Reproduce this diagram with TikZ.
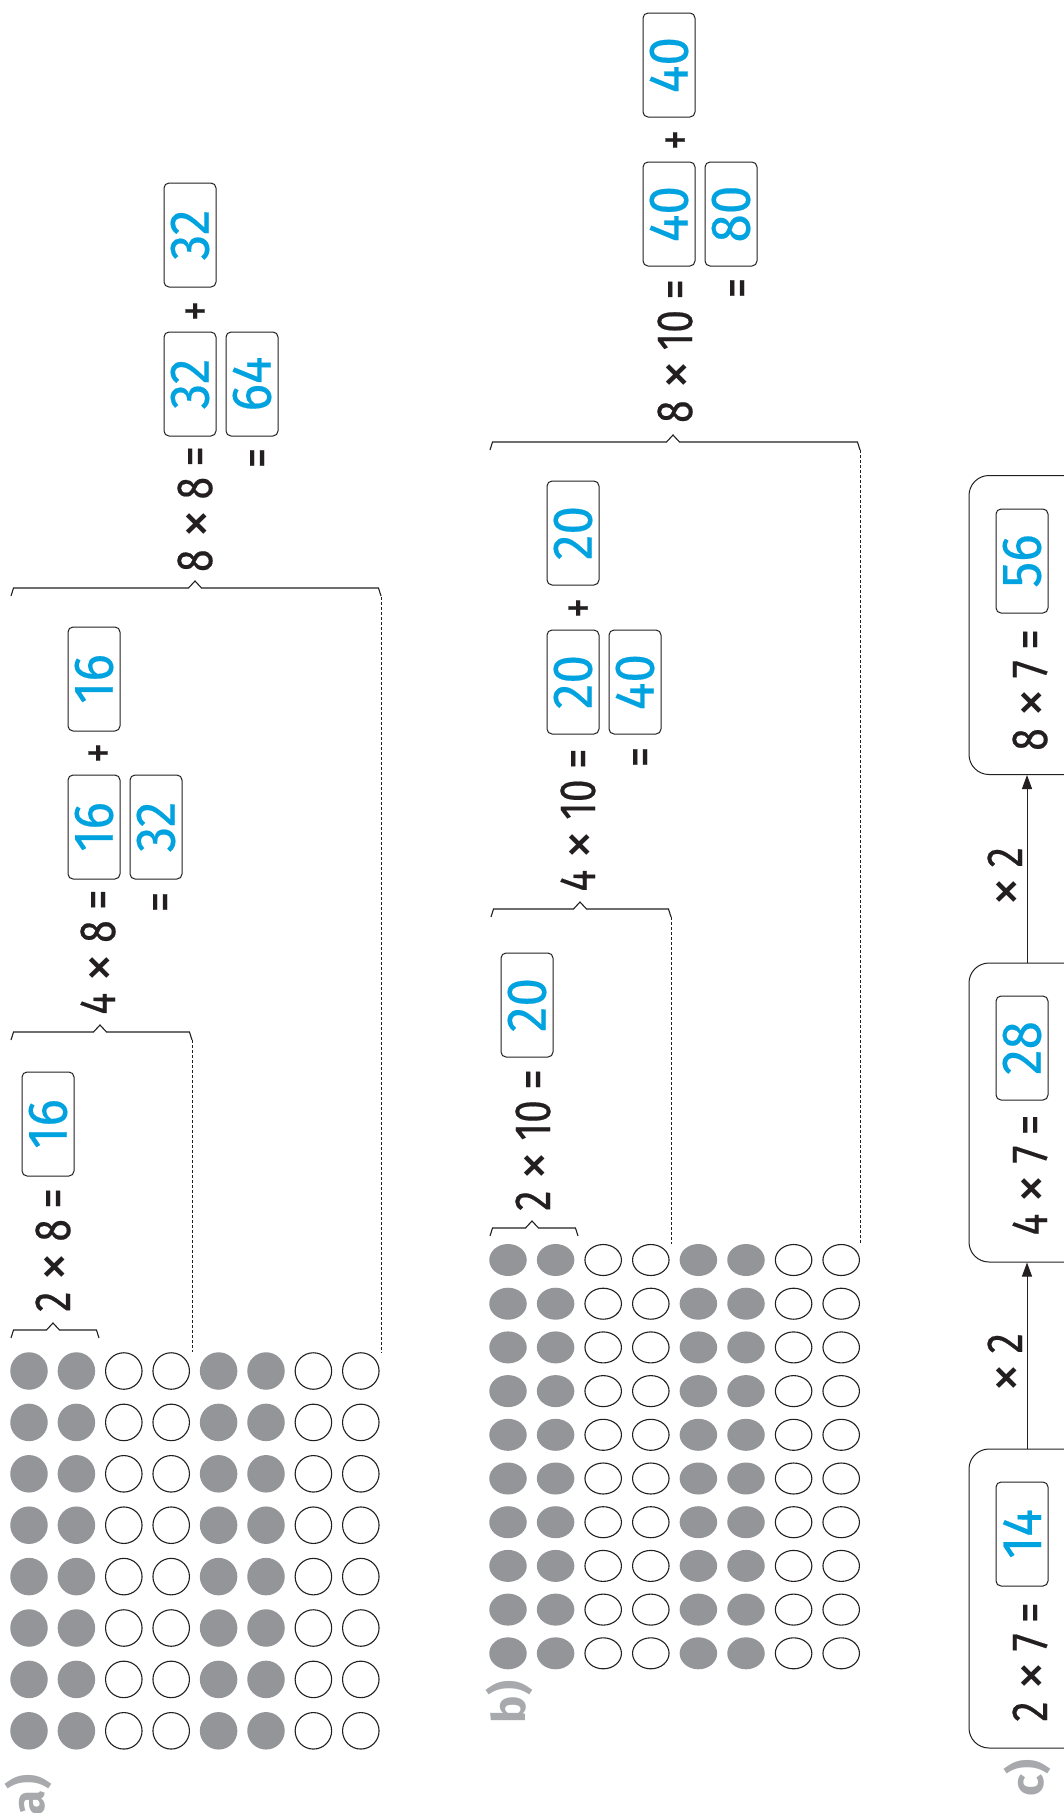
\documentclass[tikz,border=0pt]{standalone}
\usepackage{fontspec}
\setmainfont{Fira Sans}
\newfontfamily\eqf{Fira Sans}[FakeStretch=0.8,FakeBold=0.35]
\newfontfamily\tmf{Fira Sans}
\newfontfamily\ansf{Fira Sans}[FakeStretch=0.92,FakeBold=0.3]
\usetikzlibrary{shapes.geometric,arrows.meta}
\definecolor{ink}{RGB}{35,31,32}
\definecolor{ansblue}{RGB}{0,163,224}
\definecolor{dotgray}{RGB}{147,149,152}
\definecolor{lblgray}{RGB}{167,169,172}
\newcommand\gp{\hspace{10.5pt}}
\newcommand\tm{\raisebox{-2pt}{\tmf\fontsize{58}{58}\selectfont ×}}
\newcommand\brc[4]{\draw[brc] (#1,#4+8) -- (#1+2.5,#4) -- (#3-6.5,#4) -- (#3,#4-7) -- (#3+6.5,#4) -- (#2-2.5,#4) -- (#2,#4+8);}
\begin{document}
\begin{tikzpicture}[x=1pt,y=-1pt,
  eq/.style={rotate=90,anchor=base,inner sep=0pt,text=ink,font=\eqf\fontsize{51}{51}\selectfont},
  ans/.style={rotate=90,draw=ink,line width=1pt,rounded corners=5pt,minimum width=104pt,minimum height=52pt,inner sep=0pt,text=ansblue,font=\ansf\fontsize{56}{56}\selectfont},
  lbl/.style={rotate=90,anchor=base,inner sep=0pt,text=lblgray,font=\bfseries\fontsize{46}{46}\selectfont},
  gd/.style={circle,fill=dotgray,minimum size=37.5pt,inner sep=0pt},
  wd/.style={circle,draw=ink,line width=1.1pt,fill=white,minimum size=36.5pt,inner sep=0pt},
  gde/.style={ellipse,fill=dotgray,minimum width=37.5pt,minimum height=32pt,inner sep=0pt},
  wde/.style={ellipse,draw=ink,line width=1.1pt,fill=white,minimum width=36.5pt,minimum height=31pt,inner sep=0pt},
  brc/.style={draw=ink,line width=1.1pt,line join=miter},
  dline/.style={draw=ink,line width=0.9pt,dash pattern=on 3pt off 2pt},
  cbox/.style={draw=ink,line width=1pt,rounded corners=20pt,minimum width=116pt,minimum height=299pt,inner sep=0pt},
  arr/.style={draw=ink,line width=1pt,-{Triangle[length=14pt,width=10pt]}}
]
\useasboundingbox (0,0) rectangle (1064,1813);
\fill[white] (0,0) rectangle (1064,1813);
\clip (0,0) rectangle (1064,1813);

% ---------- panel a: dots ----------
\foreach \r in {1,...,8}{
  \foreach \c/\st in {1/gd,2/gd,3/wd,4/wd,5/gd,6/gd,7/wd,8/wd}{
    \node[\st] (a-\r-\c) at ({29+47.4*(\c-1)},{1371+51.4*(\r-1)}) {};
  }}
% ---------- panel b: dots ----------
\foreach \r in {1,...,10}{
  \foreach \c/\st in {1/gde,2/gde,3/wde,4/wde,5/gde,6/gde,7/wde,8/wde}{
    \node[\st] (b-\r-\c) at ({508+47.6*(\c-1)},{1260+43.7*(\r-1)}) {};
  }}

% ---------- braces ----------
\brc{11}{99}{53}{1330}
\brc{11}{192}{100}{1032}
\brc{11}{381}{195}{588}
\brc{490}{578}{532}{1228}
\brc{491}{671}{580}{909}
\brc{490}{860}{673}{442}
\coordinate (aE4) at (192,1040);
\coordinate (aE8) at (381,597);
\coordinate (bE4) at (671,917);
\coordinate (bE8) at (860,450);
\draw[dline] (aE4) -- (aE4 |- a-1-4.north);
\draw[dline] (aE8) -- (aE8 |- a-1-8.north);
\draw[dline] (bE4) -- (bE4 |- b-1-4.north);
\draw[dline] (bE8) -- (bE8 |- b-1-8.north);

% ---------- panel a: equations ----------
\node[eq] (a2t) at (70,1250) {2\gp\tm\gp8\gp=};
\node[ans] (a2r) at (48,1124) {16};
\node[eq] (a4t) at (115,952) {4\gp\tm\gp8\gp=};
\node[ans] (a4p) at (94,827) {16};
\node[eq] (a4plus) at (115,753) {+};
\node[ans] (a4q) at (94,679) {16};
\node[eq] (a4eq) at (177,902) {=};
\node[ans] (a4r) at (156,827) {32};
\node[eq] (a8t) at (212,509) {8\gp\tm\gp8\gp=};
\node[ans] (a8p) at (190,384) {32};
\node[eq] (a8plus) at (212,311) {+};
\node[ans] (a8q) at (190,235) {32};
\node[eq] (a8eq) at (274,458) {=};
\node[ans] (a8r) at (252,384) {64};

% ---------- panel b: equations ----------
\node[eq] (b2t) at (550,1140) {2\gp\tm\gp10\gp=};
\node[ans] (b2r) at (527,1005) {20};
\node[eq] (b4t) at (595,820) {4\gp\tm\gp10\gp=};
\node[ans] (b4p) at (573,682) {20};
\node[eq] (b4plus) at (595,608) {+};
\node[ans] (b4q) at (573,533) {20};
\node[eq] (b4eq) at (657,757) {=};
\node[ans] (b4r) at (635,682) {40};
\node[eq] (b8t) at (692,351) {8\gp\tm\gp10\gp=};
\node[ans] (b8p) at (669,214) {40};
\node[eq] (b8plus) at (692,140) {+};
\node[ans] (b8q) at (669,65) {40};
\node[eq] (b8eq) at (754,288) {=};
\node[ans] (b8r) at (731,214) {80};

% ---------- panel c ----------
\node[cbox] (c1) at (1027,1598.5) {};
\node[cbox] (c2) at (1027,1112.5) {};
\node[cbox] (c3) at (1027,625) {};
\node[eq] (c1t) at (1047,1662) {2\gp\tm\gp7\gp=};
\node[ans] (c1r) at (1022,1534) {14};
\node[eq] (c2t) at (1047,1175) {4\gp\tm\gp7\gp=};
\node[ans] (c2r) at (1022,1048) {28};
\node[eq] (c3t) at (1047,690) {8\gp\tm\gp7\gp=};
\node[ans] (c3r) at (1022,561) {56};
\draw[arr] (c1.north) -- (c2.south);
\draw[arr] (c2.north) -- (c3.south);
\node[eq] (x2a) at (1022,1363) {\tm\gp2};
\node[eq] (x2b) at (1022,877) {\tm\gp2};

% ---------- labels ----------
\node[lbl] (la) at (44,1795) {a)};
\node[lbl] (lb) at (525,1702) {b)};
\node[lbl] (lc) at (1043,1778) {c)};
\end{tikzpicture}
\end{document}
